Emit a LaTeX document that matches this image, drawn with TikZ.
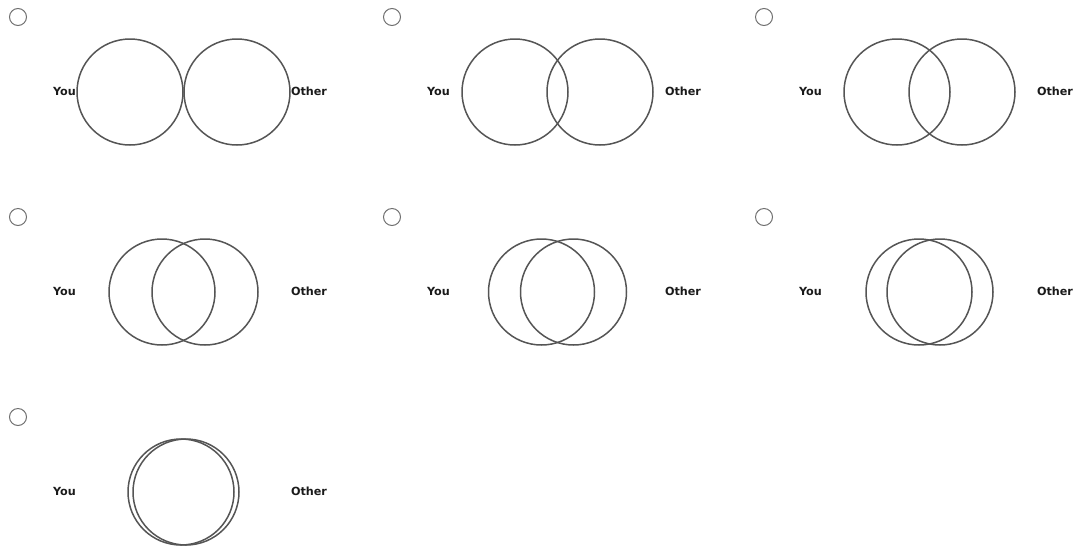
\documentclass[tikz,border=0pt]{standalone}
\usepackage{fontspec}
\setmainfont{DejaVu Sans}
\usepackage{tikz}
\usetikzlibrary{positioning}
\definecolor{ringgray}{HTML}{555555}
\definecolor{radiogray}{HTML}{707070}
\definecolor{labelblack}{HTML}{1a1a1a}
\tikzstyle{venn} = [circle, draw=ringgray, line width=1.5pt, minimum size=106pt, inner sep=0pt]
\tikzstyle{radio} = [circle, draw=radiogray, line width=1pt, minimum size=17pt, inner sep=0pt]
\tikzstyle{tag} = [font=\fontsize{11.2}{13}\selectfont\bfseries, text=labelblack, inner sep=0pt, anchor=base]

\begin{document}
\begin{tikzpicture}[x=1pt, y=-1pt]
  \useasboundingbox (0,0) rectangle (1076,550);

  % one answer option per panel: column, row, distance of the two centres
  \foreach \n/\cx/\cy/\d in {1/0/0/107, 2/374/0/85, 3/746/0/65,
                             4/0/200/43, 5/374/200/32, 6/746/200/21,
                             7/0/400/5}{
    \node (radio\n) [radio] at (\cx+18,\cy+17) {};
    \node (you\n)   [tag]   at (\cx+64.5,\cy+95.5) {You};
    \node (other\n) [tag]   at (\cx+309,\cy+95.5) {Other};
    \node (self\n)  [venn]  at (\cx+183.5-\d/2,\cy+92) {};
    \node (peer\n)  [venn]  at (\cx+183.5+\d/2,\cy+92) {};
  }
\end{tikzpicture}
\end{document}
